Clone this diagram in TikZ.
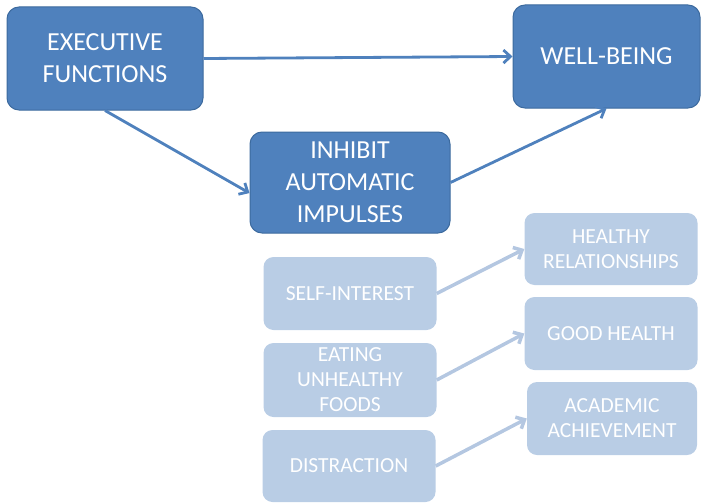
\documentclass[tikz,border=0pt]{standalone}
\usepackage{fontspec}
\setmainfont{Carlito}
\usetikzlibrary{arrows.meta}

\definecolor{mainblue}{HTML}{4F81BD}
\definecolor{edgeblue}{HTML}{3C6A9E}
\definecolor{paleblue}{HTML}{B9CDE5}
\definecolor{palearrow}{HTML}{B4C7E1}

\begin{document}
\begin{tikzpicture}[x=1pt,y=-1pt,
  darkbox/.style={draw=edgeblue,line width=1pt,fill=mainblue,rounded corners=12pt,
    text=white,align=center,inner sep=0pt,font=\fontsize{26}{32}\selectfont},
  lightbox/.style={fill=paleblue,rounded corners=10pt,text=white,align=center,
    inner sep=0pt,minimum width=173pt,font=\fontsize{21.5}{25}\selectfont},
  darkarrow/.style={draw=mainblue,line width=2.8pt,-{Straight Barb[length=7pt,width=13pt]}},
  lightarrow/.style={draw=palearrow,line width=3.5pt,-{Straight Barb[length=7pt,width=13pt]}}]
\useasboundingbox (0,0) rectangle (703,503);
% Main path
\node[darkbox,minimum width=196pt,minimum height=103pt] (exec) at (105,58.5) {EXECUTIVE\\FUNCTIONS};
\node[darkbox,minimum width=187pt,minimum height=103pt] (well) at (606.5,56.5) {WELL-BEING};
\node[darkbox,minimum width=200pt,minimum height=101pt] (inhibit) at (350,182.5) {INHIBIT\\AUTOMATIC\\IMPULSES};
\draw[darkarrow] (exec.east) -- (well.west);
\draw[darkarrow] (exec.south) -- (inhibit.186);
\draw[darkarrow] (inhibit.east) -- (well.south);
% Impulses
\node[lightbox,minimum height=73pt] (self) at (350,293.5) {SELF-INTEREST};
\node[lightbox,minimum height=74pt] (food) at (350,380) {EATING\\UNHEALTHY\\FOODS};
\node[lightbox,minimum height=72pt] (distr) at (349,466) {DISTRACTION};
% Outcomes
\node[lightbox,minimum height=72pt] (relat) at (611,249) {HEALTHY\\RELATIONSHIPS};
\node[lightbox,minimum height=73pt] (health) at (611,333.5) {GOOD HEALTH};
\node[lightbox,minimum height=73pt,minimum width=170pt] (acad) at (612,418.5) {ACADEMIC\\ACHIEVEMENT};
\draw[lightarrow] (self.east) -- (relat.west);
\draw[lightarrow] (food.east) -- (health.west);
\draw[lightarrow] (distr.east) -- (acad.west);
\end{tikzpicture}
\end{document}
